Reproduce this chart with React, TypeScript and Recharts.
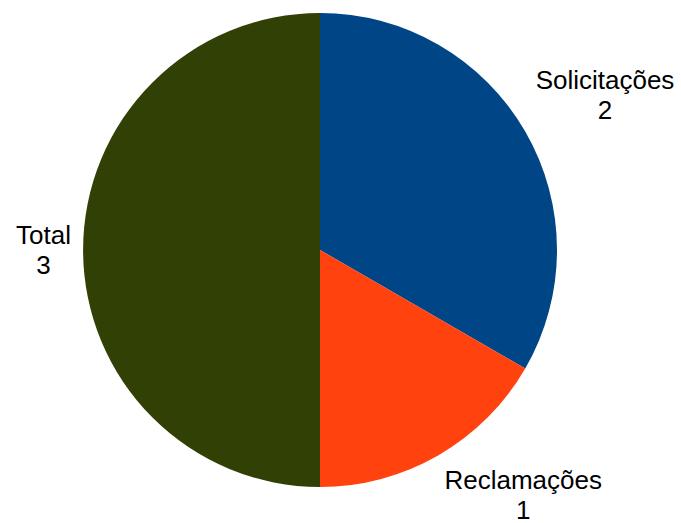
import React from "react";
import { PieChart, Pie, Cell } from "recharts";

const categories = ["Solicitações", "Reclamações", "Total"];
const values = [2, 1, 3];
const colors = ["#004586", "#ff420e", "#314004"];

const data = categories.map((name, i) => ({ name, value: values[i] }));

const FONT_SIZE = 26;
const LINE_H = 30;
const FONT = `${FONT_SIZE}px "Liberation Sans", Arial, sans-serif`;
const RADIAN = Math.PI / 180;

let ctx: CanvasRenderingContext2D | null = null;
function measure(text: string) {
  if (!ctx) ctx = document.createElement("canvas").getContext("2d");
  if (!ctx) return text.length * FONT_SIZE * 0.55;
  ctx.font = FONT;
  return ctx.measureText(text).width;
}

function renderLabel(props: any) {
  const { cx, cy, midAngle, outerRadius, name, value } = props;
  const r = outerRadius + 12;
  const c = Math.cos(-midAngle * RADIAN);
  const s = Math.sin(-midAngle * RADIAN);
  const ax = cx + r * c;
  const ay = cy + r * s;
  const lines = [String(name), String(value)];
  const w = Math.max(...lines.map(measure));
  const h = LINE_H * lines.length;

  let left = ax - w / 2;
  if (c > 0.1) left = ax;
  else if (c < -0.1) left = ax - w;

  let top = ay - h / 2;
  if (s < -0.1) top = ay - h; // upper half: text sits above the point
  else if (s > 0.1) top = ay;

  const midX = left + w / 2;
  return (
    <text
      textAnchor="middle"
      fill="#000"
      style={{ font: FONT }}
    >
      {lines.map((t, i) => (
        <tspan key={i} x={midX} y={top + 23.5 + i * LINE_H}>
          {t}
        </tspan>
      ))}
    </text>
  );
}

export default function App() {
  return (
    <div style={{ position: "fixed", left: 0, top: 0, width: 681, height: 523, background: "#fff" }}>
      <PieChart width={681} height={523} margin={{ top: 0, right: 0, bottom: 0, left: 0 }}>
        <Pie
          data={data}
          dataKey="value"
          nameKey="name"
          cx={320}
          cy={250}
          outerRadius={237}
          startAngle={90}
          endAngle={-270}
          stroke="none"
          labelLine={false}
          label={renderLabel}
          isAnimationActive={false}
        >
          {data.map((d, i) => (
            <Cell key={d.name} fill={colors[i]} />
          ))}
        </Pie>
      </PieChart>
    </div>
  );
}
